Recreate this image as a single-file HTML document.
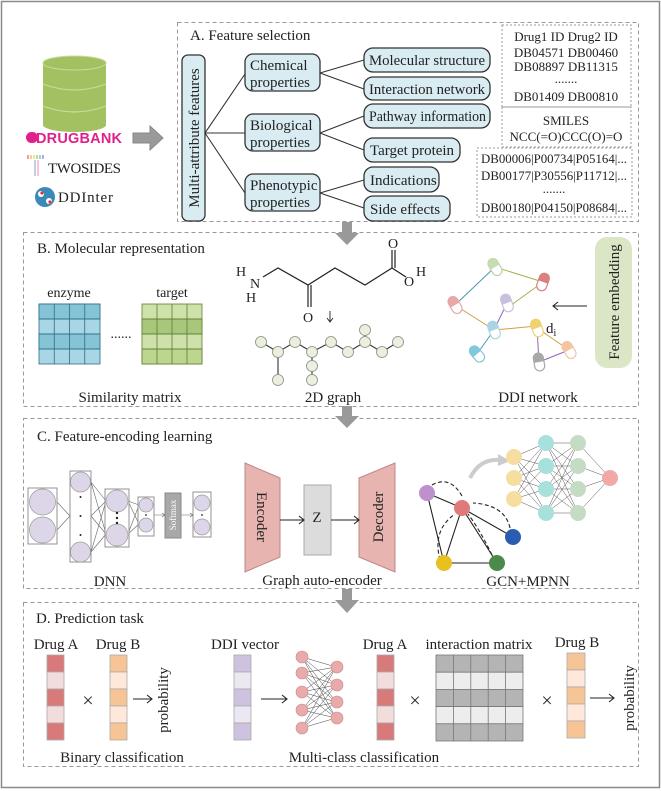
<!DOCTYPE html>
<html><head><meta charset="utf-8"><style>
html,body{margin:0;padding:0;background:#fff}
svg{display:block}
text{font-family:"Liberation Serif",serif;fill:#222}
.s{font-family:"Liberation Sans",sans-serif}
</style></head><body>
<svg width="661" height="791" viewBox="0 0 661 791" xmlns="http://www.w3.org/2000/svg">
<rect x="1.5" y="1.5" width="658" height="786" fill="#fff" stroke="#8a8a8a" stroke-width="1.5"/>

<!-- Databases -->
<rect x="43" y="63" width="63" height="62" fill="#a3c161"/>
<ellipse cx="74.5" cy="125" rx="31.5" ry="7" fill="#a3c161"/>
<ellipse cx="74.5" cy="63" rx="31.5" ry="7" fill="#a3c161" stroke="#c8dc9c" stroke-width="1"/>
<path d="M43 84 Q74.5 96 106 84 M43 106 Q74.5 118 106 106" fill="none" stroke="#c8dc9c" stroke-width="1.2"/>
<rect x="26" y="132" width="12" height="11" rx="5.5" fill="#e0208c"/>
<text x="36" y="143" class="s" font-size="14.5" font-weight="bold" style="fill:#e0208c" textLength="86">DRUGBANK</text>
<g stroke-width="1.2">
<line x1="28" y1="155" x2="28" y2="159" stroke="#e57"/><line x1="31" y1="155" x2="31" y2="159" stroke="#fa4"/><line x1="34" y1="155" x2="34" y2="159" stroke="#ec4"/><line x1="37" y1="155" x2="37" y2="159" stroke="#8c5"/><line x1="40" y1="155" x2="40" y2="159" stroke="#5bd"/><line x1="43" y1="155" x2="43" y2="159" stroke="#96c"/>
<line x1="35" y1="160" x2="35" y2="176" stroke="#9ad"/><line x1="38" y1="160" x2="38" y2="176" stroke="#f9b"/>
</g>
<text x="48" y="173" font-size="15" textLength="73">TWOSIDES</text>
<circle cx="45" cy="197" r="10" fill="#3a8ab8"/>
<circle cx="41" cy="194" r="3" fill="#fff"/><circle cx="49" cy="201" r="3" fill="#fff"/><circle cx="42" cy="193" r="1.6" fill="#d33"/><circle cx="50" cy="202" r="1.6" fill="#d33"/>
<text x="58" y="202" font-size="15" textLength="55">DDInter</text>
<polygon points="133,133 150,133 150,126 163,138 150,150 150,143 133,143" fill="#9a9a9a" stroke="#888"/>

<!-- Section A -->
<rect x="177.5" y="22.5" width="461" height="199" fill="none" stroke="#999" stroke-dasharray="4,3"/>
<text x="190" y="40" font-size="15">A. Feature selection</text>
<g fill="#d8ecf2" stroke="#333" stroke-width="1.3">
<rect x="182" y="55" width="23" height="166" rx="6"/>
<rect x="245" y="54" width="75" height="37" rx="8"/>
<rect x="245" y="114" width="75" height="37" rx="8"/>
<rect x="245" y="174" width="75" height="37" rx="8"/>
<rect x="364" y="48" width="126" height="24" rx="9"/>
<rect x="364" y="77" width="126" height="23" rx="9"/>
<rect x="364" y="104" width="126" height="24" rx="9"/>
<rect x="364" y="138" width="96" height="24" rx="9"/>
<rect x="364" y="167" width="75" height="25" rx="9"/>
<rect x="364" y="196" width="86" height="25" rx="9"/>
</g>
<text transform="translate(199,138) rotate(-90)" text-anchor="middle" font-size="15">Multi-attribute features</text>
<g font-size="15">
<text x="250" y="70">Chemical</text><text x="250" y="87">properties</text>
<text x="250" y="130">Biological</text><text x="250" y="147">properties</text>
<text x="250" y="190">Phenotypic</text><text x="250" y="207">properties</text>
<text x="369" y="65" textLength="116" lengthAdjust="spacingAndGlyphs">Molecular structure</text>
<text x="369" y="94" textLength="116" lengthAdjust="spacingAndGlyphs">Interaction network</text>
<text x="369" y="121" textLength="117" lengthAdjust="spacingAndGlyphs">Pathway information</text>
<text x="370" y="155">Target protein</text>
<text x="370" y="185">Indications</text>
<text x="370" y="214">Side effects</text>
</g>
<g stroke="#333" stroke-width="1.1" fill="none">
<path d="M205 133 L245 74 M205 133 L245 133 M205 133 L245 193"/>
<path d="M320 73 L364 60 M320 73 L364 89 M320 133 L364 116 M320 133 L364 150 M320 193 L364 180 M320 193 L364 208"/>
</g>
<g fill="none" stroke="#999" stroke-dasharray="2,2">
<rect x="502" y="25" width="129" height="82"/>
<rect x="502" y="107" width="129" height="40"/>
<rect x="477" y="148" width="155" height="69"/>
</g>
<g font-size="13" text-anchor="middle">
<text x="566" y="41">Drug1 ID  Drug2 ID</text>
<text x="566" y="57">DB04571  DB00460</text>
<text x="566" y="71">DB08897  DB11315</text>
<text x="566" y="83">.......</text>
<text x="566" y="101">DB01409  DB00810</text>
<text x="566" y="125">SMILES</text>
<text x="566" y="141">NCC(=O)CCC(O)=O</text>
<text x="554" y="163" textLength="146" lengthAdjust="spacingAndGlyphs">DB00006|P00734|P05164|...</text>
<text x="554" y="180" textLength="146" lengthAdjust="spacingAndGlyphs">DB00177|P30556|P11712|...</text>
<text x="554" y="193">.......</text>
<text x="554" y="212" textLength="146" lengthAdjust="spacingAndGlyphs">DB00180|P04150|P08684|...</text>
</g>

<!-- arrows between sections -->
<polygon points="342,222 352,222 352,233 359,233 347,245 335,233 342,233" fill="#999"/>
<polygon points="342,406 352,406 352,416 359,416 347,428 335,416 342,416" fill="#999"/>
<polygon points="342,589 352,589 352,600 359,600 347,613 335,600 342,600" fill="#999"/>

<!-- Section B -->
<rect x="23.5" y="232.5" width="615" height="174" fill="none" stroke="#999" stroke-dasharray="4,3"/>
<text x="37" y="253" font-size="15">B. Molecular representation</text>
<text x="69" y="297" font-size="14" text-anchor="middle">enzyme</text>
<text x="172" y="297" font-size="14" text-anchor="middle">target</text>
<g stroke="#2a6f86" stroke-width="0.8">
<rect x="39" y="304" width="61" height="60" fill="#a9d6e4"/>
<rect x="39" y="304" width="61" height="15" fill="#86c3d6"/><rect x="39" y="334" width="61" height="15" fill="#86c3d6"/>
<path d="M54.25 304V364M69.5 304V364M84.75 304V364M39 319H100M39 334H100M39 349H100" fill="none"/>
</g>
<g stroke="#5f7d35" stroke-width="0.8">
<rect x="142" y="304" width="60" height="60" fill="#cfe1aa"/>
<rect x="142" y="319" width="60" height="15" fill="#a9c77a"/><rect x="142" y="349" width="60" height="15" fill="#bcd58f"/>
<path d="M157 304V364M172 304V364M187 304V364M142 319H202M142 334H202M142 349H202" fill="none"/>
</g>
<text x="121" y="338" font-size="14" text-anchor="middle">......</text>
<text x="130" y="402" font-size="15" text-anchor="middle">Similarity matrix</text>
<!-- molecule -->
<g stroke="#222" stroke-width="1.2" fill="none">
<path d="M263 277 L278 268 L308 285 L335 268 L365 285 L392 268 L406 277"/>
<path d="M392 268 L392 250 M395 268 L395 250"/>
<path d="M308 285 L308 307 M311 285 L311 307"/>
<path d="M330 311 V322 M327 318 L330 322 L333 318" stroke-width="0.9"/>
</g>
<g font-size="14">
<text x="236" y="276">H</text><text x="250" y="288">N</text><text x="246" y="302">H</text>
<text x="388" y="248">O</text><text x="404" y="286">O</text><text x="416" y="276">H</text>
<text x="303" y="322">O</text>
</g>
<g stroke="#333" stroke-width="1.1" fill="none">
<path d="M261 342 L278 352 L295 342 L312 352 L331 342 L348 352 L365 342 L382 352 L398 342 M365 342 L365 332 M278 352 L278 380 M312 352 L312 380"/>
</g>
<g fill="#eaf0df" stroke="#8a8a7a" stroke-width="0.8">
<circle cx="261" cy="342" r="5.5"/><circle cx="278" cy="352" r="5.5"/><circle cx="295" cy="342" r="5.5"/><circle cx="312" cy="352" r="5.5"/><circle cx="331" cy="342" r="5.5"/><circle cx="348" cy="352" r="5.5"/><circle cx="365" cy="342" r="5.5"/><circle cx="382" cy="352" r="5.5"/><circle cx="398" cy="342" r="5.5"/><circle cx="365" cy="330" r="5.5"/><circle cx="278" cy="380" r="5.5"/><circle cx="312" cy="380" r="5.5"/><circle cx="312" cy="366" r="5.5"/>
</g>
<text x="333" y="402" font-size="15" text-anchor="middle">2D graph</text>
<!-- DDI network -->
<g stroke-width="1">
<line x1="495" y1="267" x2="455" y2="305" stroke="#4a9aa8"/>
<line x1="495" y1="267" x2="543" y2="282" stroke="#a8b050"/>
<line x1="543" y1="282" x2="510" y2="306" stroke="#a8b050"/>
<line x1="507" y1="303" x2="494" y2="330" stroke="#8a6ab8"/>
<line x1="455" y1="305" x2="494" y2="330" stroke="#d0a040"/>
<line x1="494" y1="330" x2="537" y2="326" stroke="#d0a040"/>
<line x1="494" y1="330" x2="477" y2="354" stroke="#4a9aa8"/>
<line x1="537" y1="328" x2="569" y2="350" stroke="#d0a040"/>
<line x1="537" y1="328" x2="539" y2="362" stroke="#8a6ab8"/>
<line x1="569" y1="350" x2="539" y2="362" stroke="#8a6ab8"/>
</g>
<g stroke-width="1.2" fill="#fff">
<g transform="translate(495,267) rotate(-30)"><rect x="-5" y="-9" width="10" height="18" rx="5" stroke="#bcd3a8"/><path d="M-5 0 V-4 A5 5 0 0 1 5 -4 V0Z" fill="#c8dcb4"/></g>
<g transform="translate(543,282) rotate(20)"><rect x="-5" y="-9" width="10" height="18" rx="5" stroke="#d98080"/><path d="M-5 0 V-4 A5 5 0 0 1 5 -4 V0Z" fill="#d98080"/></g>
<g transform="translate(455,305) rotate(-30)"><rect x="-5" y="-9" width="10" height="18" rx="5" stroke="#e8a8a8"/><path d="M-5 0 V-4 A5 5 0 0 1 5 -4 V0Z" fill="#e8a8a8"/></g>
<g transform="translate(507,303) rotate(-20)"><rect x="-5" y="-9" width="10" height="18" rx="5" stroke="#c8c0dc"/><path d="M-5 0 V-4 A5 5 0 0 1 5 -4 V0Z" fill="#c8c0dc"/></g>
<g transform="translate(494,330) rotate(-20)"><rect x="-5" y="-9" width="10" height="18" rx="5" stroke="#a8d4e4"/><path d="M-5 0 V-4 A5 5 0 0 1 5 -4 V0Z" fill="#a8d4e4"/></g>
<g transform="translate(537,328) rotate(-20)"><rect x="-5" y="-9" width="10" height="18" rx="5" stroke="#f0d070"/><path d="M-5 0 V-4 A5 5 0 0 1 5 -4 V0Z" fill="#f0d070"/></g>
<g transform="translate(477,354) rotate(-40)"><rect x="-5" y="-9" width="10" height="18" rx="5" stroke="#80c8dc"/><path d="M-5 0 V-4 A5 5 0 0 1 5 -4 V0Z" fill="#80c8dc"/></g>
<g transform="translate(539,362) rotate(-10)"><rect x="-5" y="-9" width="10" height="18" rx="5" stroke="#a8a8a8"/><path d="M-5 0 V-4 A5 5 0 0 1 5 -4 V0Z" fill="#a8a8a8"/></g>
<g transform="translate(569,350) rotate(-30)"><rect x="-5" y="-9" width="10" height="18" rx="5" stroke="#f4c4a4"/><path d="M-5 0 V-4 A5 5 0 0 1 5 -4 V0Z" fill="#f4c4a4"/></g>
</g>
<text x="546" y="333" font-size="15">d<tspan font-size="10" dy="3">i</tspan></text>
<path d="M587 306 H553 M558 302 L553 306 L558 310" stroke="#222" fill="none" stroke-width="1.1"/>
<rect x="595" y="237" width="37" height="131" rx="12" fill="#dbe6c6"/>
<text transform="translate(619,302) rotate(-90)" text-anchor="middle" font-size="15">Feature embedding</text>
<text x="538" y="402" font-size="15" text-anchor="middle">DDI network</text>

<!-- Section C -->
<rect x="23.5" y="418.5" width="615" height="170" fill="none" stroke="#999" stroke-dasharray="4,3"/>
<text x="37" y="441" font-size="15">C. Feature-encoding learning</text>
<!-- DNN -->
<g stroke="#666" stroke-width="0.6" fill="none">
<path d="M57 502 L70 516 M57 530 L70 516"/>
<path d="M91 482 L106 501 M91 482 L106 534 M91 552 L106 501 M91 552 L106 534 M91 516 L106 501 M91 516 L106 534"/>
<path d="M128 501 L139 505 M128 501 L139 524 M128 534 L139 505 M128 534 L139 524"/>
<path d="M154 515 H165 M162 513 L165 515 L162 517 M181 515 H193 M190 513 L193 515 L190 517"/>
</g>
<g fill="#fff" stroke="#888" stroke-width="0.9">
<rect x="28" y="488" width="29" height="56"/><rect x="70" y="471" width="21" height="91"/><rect x="105" y="489" width="24" height="58"/><rect x="138" y="497" width="16" height="39"/><rect x="193" y="492" width="18" height="45"/>
</g>
<g fill="#dcd6e8" stroke="#999" stroke-width="0.7">
<circle cx="42.5" cy="502" r="13"/><circle cx="42.5" cy="530" r="13"/>
<circle cx="80.5" cy="482" r="10"/><circle cx="80.5" cy="552" r="10"/>
<circle cx="117" cy="501" r="11"/><circle cx="117" cy="535" r="11"/>
<circle cx="146" cy="505" r="7"/><circle cx="146" cy="525" r="7"/>
<circle cx="202" cy="503" r="8"/><circle cx="202" cy="527" r="8"/>
</g>
<g fill="#222"><circle cx="80.5" cy="497" r="1"/><circle cx="80.5" cy="516" r="1"/><circle cx="80.5" cy="535" r="1"/><circle cx="117" cy="513" r="1.2"/><circle cx="117" cy="518" r="1.2"/><circle cx="117" cy="523" r="1.2"/><circle cx="146" cy="515" r="0.9"/><circle cx="202" cy="515" r="0.9"/></g>
<rect x="165" y="493" width="16" height="45" fill="#a8a8a8" stroke="#888"/>
<text transform="translate(176,515) rotate(-90)" text-anchor="middle" font-size="9" style="fill:#fff">Softmax</text>
<text x="110" y="586" font-size="15" text-anchor="middle">DNN</text>
<!-- GAE -->
<polygon points="245,463 280,478 280,557 245,572" fill="#e8b4b0" stroke="#b88"/>
<polygon points="359,478 395,463 395,572 359,557" fill="#e8b4b0" stroke="#b88"/>
<rect x="304" y="485" width="27" height="70" fill="#dcdcdc" stroke="#aaa"/>
<text transform="translate(257,517) rotate(90)" text-anchor="middle" font-size="15">Encoder</text>
<text transform="translate(383,517) rotate(-90)" text-anchor="middle" font-size="15">Decoder</text>
<text x="317" y="522" font-size="15" text-anchor="middle">Z</text>
<path d="M280 520 H304 M299 516 L304 520 L299 524 M331 520 H359 M354 516 L359 520 L354 524" stroke="#222" fill="none" stroke-width="1.1"/>
<text x="322" y="585" font-size="15" text-anchor="middle">Graph auto-encoder</text>
<!-- GCN -->
<g stroke="#222" stroke-width="1.1" fill="none">
<path d="M427 493 L462 508 M427 493 L444 563 M444 563 L497 563 M444 563 L462 508 M497 563 L462 508 M513 537 L462 508"/>
<path d="M432 485 Q450 475 462 496 M440 560 Q432 530 455 514 M492 555 Q480 530 468 514 M510 528 Q505 505 473 503" stroke-dasharray="4,2.5"/>
</g>
<path d="M470 478 Q480 458 500 460" stroke="#ccc" stroke-width="4" fill="none"/>
<polygon points="498,454 510,461 498,466" fill="#ccc"/>
<g stroke="#555" stroke-width="0.5">
<path d="M514 457 L546 443 M514 457 L546 466 M514 457 L546 489 M514 457 L546 513 M514 478 L546 443 M514 478 L546 466 M514 478 L546 489 M514 478 L546 513 M514 499 L546 443 M514 499 L546 466 M514 499 L546 489 M514 499 L546 513"/>
<path d="M546 443 L578 443 M546 443 L578 466 M546 443 L578 489 M546 443 L578 513 M546 466 L578 443 M546 466 L578 466 M546 466 L578 489 M546 466 L578 513 M546 489 L578 443 M546 489 L578 466 M546 489 L578 489 M546 489 L578 513 M546 513 L578 443 M546 513 L578 466 M546 513 L578 489 M546 513 L578 513"/>
<path d="M578 443 L610 478 M578 466 L610 478 M578 489 L610 478 M578 513 L610 478"/>
</g>
<g stroke="none">
<circle cx="514" cy="457" r="8" fill="#f6dea0"/><circle cx="514" cy="478" r="8" fill="#f6dea0"/><circle cx="514" cy="499" r="8" fill="#f6dea0"/>
<circle cx="546" cy="443" r="8" fill="#a8e0dc"/><circle cx="546" cy="466" r="8" fill="#a8e0dc"/><circle cx="546" cy="489" r="8" fill="#a8e0dc"/><circle cx="546" cy="513" r="8" fill="#a8e0dc"/>
<circle cx="578" cy="443" r="8" fill="#c4dcc4"/><circle cx="578" cy="466" r="8" fill="#c4dcc4"/><circle cx="578" cy="489" r="8" fill="#c4dcc4"/><circle cx="578" cy="513" r="8" fill="#c4dcc4"/>
<circle cx="610" cy="478" r="8" fill="#f0a8a8"/>
<circle cx="427" cy="493" r="8" fill="#c090cc"/><circle cx="462" cy="508" r="8" fill="#e07a7a"/><circle cx="513" cy="537" r="8" fill="#2a5cb0"/><circle cx="444" cy="563" r="8" fill="#e8c020"/><circle cx="497" cy="563" r="8" fill="#4a8a4a"/>
</g>
<text x="528" y="586" font-size="15" text-anchor="middle">GCN+MPNN</text>

<!-- Section D -->
<rect x="23.5" y="602.5" width="615" height="164" fill="none" stroke="#999" stroke-dasharray="4,3"/>
<text x="36" y="623" font-size="15">D. Prediction task</text>
<g font-size="15" text-anchor="middle">
<text x="56" y="649">Drug A</text><text x="118" y="649">Drug B</text><text x="245" y="649">DDI vector</text>
<text x="385" y="649">Drug A</text><text x="479" y="649">interaction matrix</text><text x="577" y="647">Drug B</text>
<text x="122" y="762">Binary classification</text><text x="364" y="762">Multi-class classification</text>
</g>
<g stroke="#aaa" stroke-width="0.8">
<rect x="47" y="655" width="17" height="17" fill="#d97a7a"/><rect x="47" y="672" width="17" height="17" fill="#f2dcdc"/><rect x="47" y="689" width="17" height="17" fill="#d97a7a"/><rect x="47" y="706" width="17" height="17" fill="#f2dcdc"/><rect x="47" y="723" width="17" height="17" fill="#d97a7a"/>
<rect x="110" y="655" width="17" height="17" fill="#f7c496"/><rect x="110" y="672" width="17" height="17" fill="#fde8da"/><rect x="110" y="689" width="17" height="17" fill="#f7c496"/><rect x="110" y="706" width="17" height="17" fill="#fde8da"/><rect x="110" y="723" width="17" height="17" fill="#f7c496"/>
<rect x="234" y="655" width="17" height="17" fill="#cdc3e0"/><rect x="234" y="672" width="17" height="17" fill="#ece8f2"/><rect x="234" y="689" width="17" height="17" fill="#cdc3e0"/><rect x="234" y="706" width="17" height="17" fill="#ece8f2"/><rect x="234" y="723" width="17" height="17" fill="#cdc3e0"/>
<rect x="377" y="655" width="17" height="17" fill="#d97a7a"/><rect x="377" y="672" width="17" height="17" fill="#f2dcdc"/><rect x="377" y="689" width="17" height="17" fill="#d97a7a"/><rect x="377" y="706" width="17" height="17" fill="#f2dcdc"/><rect x="377" y="723" width="17" height="17" fill="#d97a7a"/>
<rect x="567" y="653" width="18" height="17" fill="#f7c496"/><rect x="567" y="670" width="18" height="17" fill="#fde8da"/><rect x="567" y="687" width="18" height="17" fill="#f7c496"/><rect x="567" y="704" width="18" height="17" fill="#fde8da"/><rect x="567" y="721" width="18" height="17" fill="#f7c496"/>
</g>
<g stroke="#777" stroke-width="0.8">
<rect x="436" y="655" width="87" height="17.2" fill="#b4b4b4"/><rect x="436" y="672.2" width="87" height="17.2" fill="#ededed"/><rect x="436" y="689.4" width="87" height="17.2" fill="#b4b4b4"/><rect x="436" y="706.6" width="87" height="17.2" fill="#ededed"/><rect x="436" y="723.8" width="87" height="17.2" fill="#b4b4b4"/>
<path d="M453.4 655V741M470.8 655V741M488.2 655V741M505.6 655V741" fill="none"/>
</g>
<g font-size="20" text-anchor="middle"><text x="88" y="707">×</text><text x="415" y="707">×</text><text x="547" y="707">×</text></g>
<g stroke="#222" stroke-width="1.1" fill="none">
<path d="M133 699 H152 M147 695 L152 699 L147 703"/>
<path d="M261 699 H287 M282 695 L287 699 L282 703"/>
<path d="M590 698 H614 M609 694 L614 698 L609 702"/>
</g>
<text transform="translate(168,700) rotate(-90)" text-anchor="middle" font-size="15">probability</text>
<text transform="translate(634,698) rotate(-90)" text-anchor="middle" font-size="15">probability</text>
<g stroke="#444" stroke-width="0.5">
<path d="M302 657 L336 667 M302 657 L336 685 M302 657 L336 702 M302 657 L336 718 M302 673 L336 667 M302 673 L336 685 M302 673 L336 702 M302 673 L336 718 M302 692 L336 667 M302 692 L336 685 M302 692 L336 702 M302 692 L336 718 M302 710 L336 667 M302 710 L336 685 M302 710 L336 702 M302 710 L336 718 M302 728 L336 667 M302 728 L336 685 M302 728 L336 702 M302 728 L336 718"/>
</g>
<g fill="#e8aaaa" stroke="#c88" stroke-width="0.6">
<circle cx="302" cy="657" r="6"/><circle cx="302" cy="673" r="6"/><circle cx="302" cy="692" r="6"/><circle cx="302" cy="710" r="6"/><circle cx="302" cy="728" r="6"/>
<circle cx="337" cy="667" r="6"/><circle cx="337" cy="685" r="6"/><circle cx="337" cy="702" r="6"/><circle cx="337" cy="718" r="6"/>
</g>
</svg>
</body></html>
